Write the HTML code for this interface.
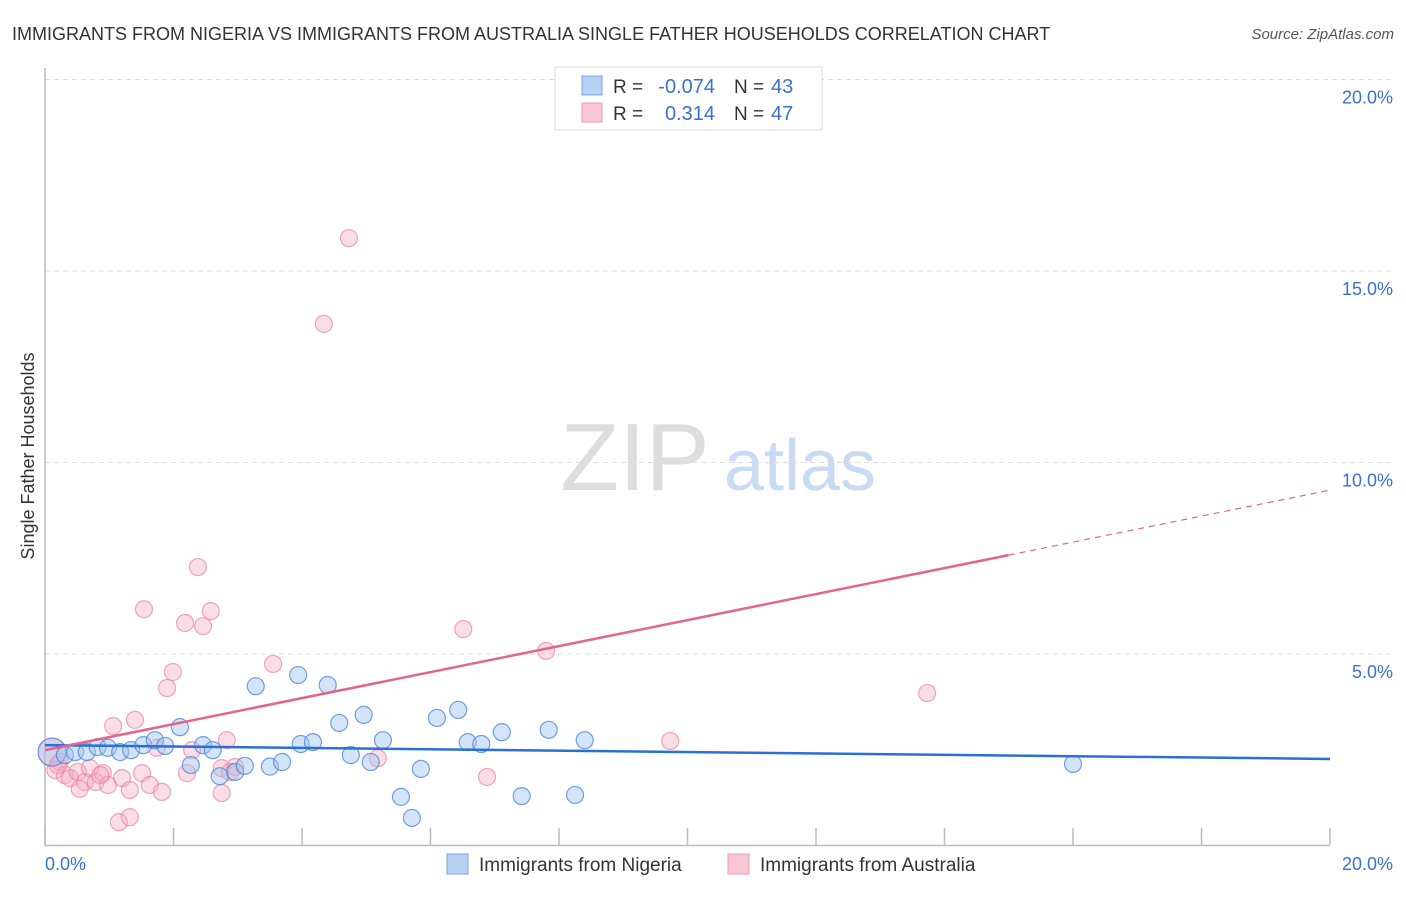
<!DOCTYPE html>
<html><head><meta charset="utf-8"><style>
body{margin:0;background:#fff;font-family:"Liberation Sans",sans-serif;}
svg text{font-family:"Liberation Sans",sans-serif;}
</style></head><body>
<svg id="chart" width="1406" height="892">
<text x="12" y="40" font-size="18" fill="#333">IMMIGRANTS FROM NIGERIA VS IMMIGRANTS FROM AUSTRALIA SINGLE FATHER HOUSEHOLDS CORRELATION CHART</text>
<text x="1394" y="39" font-size="15" fill="#555" font-style="italic" text-anchor="end">Source: ZipAtlas.com</text>
<text x="635" y="490" font-size="96" fill="#ddd" font-family="Liberation Serif" text-anchor="middle">ZIP</text>
<text x="800" y="490" font-size="72" fill="#c9daf3" text-anchor="middle">atlas</text>
<text x="34" y="456" font-size="18" fill="#333" text-anchor="middle" transform="rotate(-90 34 456)">Single Father Households</text>
<g id="grid"></g><g id="axes"></g><g id="marks"></g>
<g>
<rect x="555" y="67" width="267" height="63" fill="#fff" stroke="#ddd"/>
<rect x="582" y="76" width="20" height="19" fill="#b8d0f4" stroke="#7aa3e5"/>
<rect x="582" y="103" width="20" height="19" fill="#f9c6d4" stroke="#ee9ab2"/>
<text x="613" y="93" font-size="19" fill="#333">R = </text><text x="715" y="93" font-size="20" fill="#3b6fd4" text-anchor="end">-0.074</text>
<text x="734" y="93" font-size="19" fill="#333">N = </text><text x="771" y="93" font-size="20" fill="#3b6fd4">43</text>
<text x="613" y="120" font-size="19" fill="#333">R = </text><text x="715" y="120" font-size="20" fill="#3b6fd4" text-anchor="end">0.314</text>
<text x="734" y="120" font-size="19" fill="#333">N = </text><text x="771" y="120" font-size="20" fill="#3b6fd4">47</text>
</g>
<g>
<rect x="447" y="854" width="21" height="20" fill="#b8d0f4" stroke="#7aa3e5"/>
<text x="479" y="871" font-size="19" fill="#333">Immigrants from Nigeria</text>
<rect x="728" y="854" width="21" height="20" fill="#f9c6d4" stroke="#ee9ab2"/>
<text x="760" y="871" font-size="19" fill="#333">Immigrants from Australia</text>
</g>
</svg>
<script>
const blueX=[0.11,0.31,0.47,0.65,0.82,0.98,1.17,1.34,1.53,1.71,1.87,2.10,2.27,2.46,2.61,2.72,2.96,3.11,3.28,3.50,3.69,3.94,3.98,4.17,4.40,4.58,4.76,4.96,5.07,5.26,5.54,5.71,5.85,6.10,6.43,6.58,6.79,7.11,7.42,7.84,8.25,8.40,16.00];
const blueY=[2.44,2.36,2.44,2.44,2.57,2.55,2.44,2.49,2.62,2.75,2.60,3.09,2.10,2.62,2.49,1.81,1.92,2.08,4.16,2.06,2.18,4.45,2.65,2.70,4.19,3.20,2.36,3.41,2.18,2.75,1.27,0.72,2.00,3.33,3.54,2.70,2.65,2.96,1.29,3.02,1.32,2.75,2.13];
const pinkX=[0.11,0.16,0.23,0.31,0.39,0.51,0.62,0.70,0.79,0.90,0.98,1.06,1.20,1.32,1.40,1.51,1.54,1.63,1.74,1.82,1.90,1.99,2.18,2.21,2.29,2.38,2.46,2.58,2.75,2.75,2.83,2.96,3.55,4.34,4.73,5.18,6.51,6.88,7.80,9.73,13.73,1.15,1.32,0.54,0.86,0.20,2.88];
const pinkY=[2.44,1.97,2.18,1.84,1.76,1.92,1.66,2.02,1.66,1.89,1.58,3.12,1.76,1.45,3.28,1.89,6.17,1.58,2.55,1.40,4.11,4.53,5.81,1.89,2.49,7.27,5.73,6.12,2.02,1.37,2.75,2.05,4.74,13.62,15.86,2.28,5.65,1.79,5.08,2.73,3.98,0.61,0.74,1.48,1.84,2.10,1.92];
const yTicks=[5,10,15,20];
const yTickLabels=["5.0%","10.0%","15.0%","20.0%"];
const xTicks=[0,2,4,6,8,10,12,14,16,18,20];
const blueTrend=[2.62,2.26];
const pinkTrend=[2.49,9.28];
const pinkSolidEnd=15.0;
const NS="http://www.w3.org/2000/svg";
const sx=v=>45+v*1285/20, sy=v=>845.5-v*38.3;
function mk(tag,attrs,parent){const e=document.createElementNS(NS,tag);for(const k in attrs)e.setAttribute(k,attrs[k]);document.getElementById(parent).appendChild(e);return e;}
yTicks.forEach((t,i)=>{
 const g=mk('line',{x1:45,x2:1393,y1:sy(t),y2:sy(t),stroke:'#ddd','stroke-dasharray':'5,4'},'grid');
 
 
 const l=mk('text',{x:1393,y:sy(t)+24,'font-size':18,fill:'#3b6fd4','text-anchor':'end'},'grid');
 l.textContent=yTickLabels[i];
 
 
});
const ax=mk('path',{d:'M45 68 V845.5 H1330',stroke:'#bbb',fill:'none','stroke-width':1.5},'axes');


xTicks.forEach(t=>{
 const k=mk('line',{x1:sx(t),x2:sx(t),y1:828,y2:845,stroke:'#bbb','stroke-width':1.5},'axes');
 
 
});
const x0=mk('text',{x:45,y:870,'font-size':18,fill:'#3b6fd4'},'axes');x0.textContent='0.0%';


const x1=mk('text',{x:1393,y:870,'font-size':18,fill:'#3b6fd4','text-anchor':'end'},'axes');x1.textContent='20.0%';


pinkX.forEach((v,i)=>{
 const c=mk('circle',{cx:sx(v),cy:sy(pinkY[i]),r:i===0?14:8.5,fill:'rgba(246,170,192,0.4)',stroke:'rgba(234,130,160,0.7)','stroke-width':1.2},'marks');
 
 
});
blueX.forEach((v,i)=>{
 const c=mk('circle',{cx:sx(v),cy:sy(blueY[i]),r:i===0?14:8.5,fill:'rgba(160,195,240,0.45)',stroke:'rgba(70,130,220,0.75)','stroke-width':1.2},'marks');
 
 
});
const bt=mk('line',{x1:sx(0),y1:sy(blueTrend[0]),x2:sx(20),y2:sy(blueTrend[1]),stroke:'#2a6fd6','stroke-width':2.5},'marks');


const pAt=x=>pinkTrend[0]+(pinkTrend[1]-pinkTrend[0])*x/20;
const pt=mk('line',{x1:sx(0),y1:sy(pAt(0)),x2:sx(pinkSolidEnd),y2:sy(pAt(pinkSolidEnd)),stroke:'#e4648e','stroke-width':2.5},'marks');


const pd=mk('line',{x1:sx(pinkSolidEnd),y1:sy(pAt(pinkSolidEnd)),x2:sx(20),y2:sy(pAt(20)),stroke:'#e4648e','stroke-width':1.2,'stroke-dasharray':'6,5'},'marks');


</script>
</body></html>
